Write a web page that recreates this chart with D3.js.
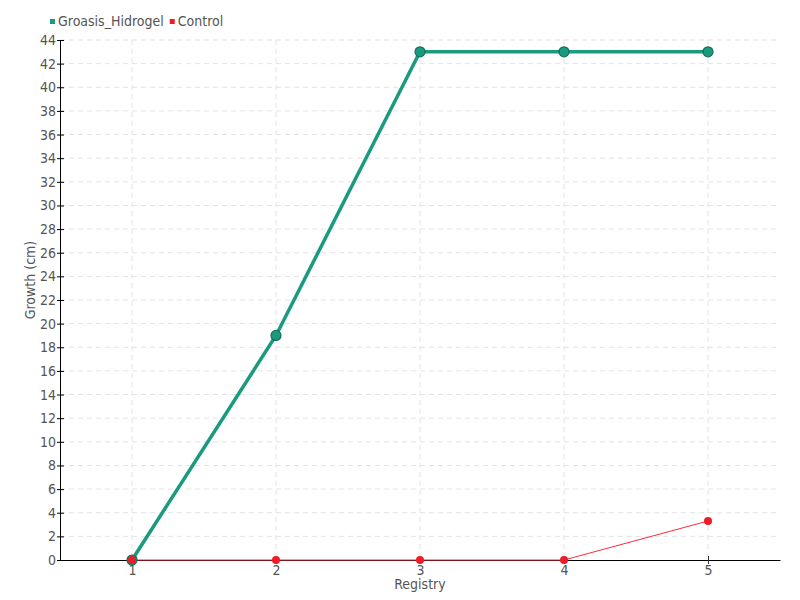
<!DOCTYPE html>
<html>
<head>
<meta charset="utf-8">
<script src="https://cdn.jsdelivr.net/npm/d3@7"></script>
<style>
  body { margin: 0; background: #fff; }
  text { font-family: "DejaVu Sans Condensed", "DejaVu Sans", sans-serif; font-stretch: condensed; fill: #555; }
</style>
</head>
<body>
<div id="chart"></div>
<script>
var registry = [1, 2, 3, 4, 5];
var groasis = [0, 19, 43, 43, 43];
var control = [0, 0, 0, 0, 3.3];
var yTicks = d3.range(0, 45, 2);

var svgWidth = 800, svgHeight = 600;
var margin = { top: 40, right: 20, bottom: 40, left: 60 };
var width = svgWidth - margin.left - margin.right;
var height = svgHeight - margin.top - margin.bottom;

var svg = d3.select("#chart").append("svg")
  .attr("width", svgWidth)
  .attr("height", svgHeight);

var g = svg.append("g")
  .attr("transform", `translate(${margin.left}, ${margin.top})`);

var x = d3.scalePoint().domain(registry).range([0, width]).padding(0.5);
var y = d3.scaleLinear().domain([0, 44]).range([height, 0]);

// grid
g.append("g").selectAll("line")
  .data(yTicks.slice(1))
  .enter().append("line")
  .attr("x1", 0).attr("x2", width)
  .attr("y1", d => y(d)).attr("y2", d => y(d))
  .attr("stroke", "#e3e3e3").attr("stroke-dasharray", "5,4");

g.append("g").selectAll("line")
  .data(registry)
  .enter().append("line")
  .attr("x1", d => x(d)).attr("x2", d => x(d))
  .attr("y1", 0).attr("y2", height)
  .attr("stroke", "#e3e3e3").attr("stroke-dasharray", "5,4");

// axes
var xAxis = g.append("g")
  .attr("transform", `translate(0, ${height})`)
  .call(d3.axisBottom(x).tickSizeInner(4).tickSizeOuter(0).tickPadding(1));
xAxis.selectAll(".tick line").attr("y1", -4).attr("stroke", "#333");
xAxis.select(".domain").attr("stroke", "#000");

var yAxis = g.append("g")
  .call(d3.axisLeft(y).tickValues(yTicks).tickSizeInner(3).tickSizeOuter(0).tickPadding(1));
yAxis.selectAll(".tick line").attr("x1", 4).attr("x2", -3).attr("stroke", "#000");
yAxis.select(".domain").attr("stroke", "#000");
g.selectAll(".tick text").attr("font-size", 14).style("fill", "#555")
  .attr("font-family", null);

// axis titles
g.append("text")
  .attr("x", width / 2).attr("y", height + 29)
  .attr("text-anchor", "middle").attr("font-size", 14)
  .text("Registry");

g.append("text")
  .attr("transform", "rotate(-90)")
  .attr("x", -(height / 2) + 20).attr("y", -25)
  .attr("text-anchor", "middle").attr("font-size", 14)
  .text("Growth (cm)");

// lines
var line = d3.line().x((d, i) => x(registry[i])).y(d => y(d));

g.append("path").datum(groasis)
  .attr("fill", "none").attr("stroke", "#1a9a7e").attr("stroke-width", 3.5)
  .attr("d", line);

g.append("path").datum(control)
  .attr("fill", "none").attr("stroke", "#ff2a3a").attr("stroke-width", 1)
  .attr("d", line);

g.append("g").selectAll("circle")
  .data(groasis).enter().append("circle")
  .attr("cx", (d, i) => x(registry[i])).attr("cy", d => y(d))
  .attr("r", 5).attr("fill", "#1a9a7e").attr("stroke", "#146e5c").attr("stroke-width", 1.2);

g.append("g").selectAll("circle")
  .data(control).enter().append("circle")
  .attr("cx", (d, i) => x(registry[i])).attr("cy", d => y(d))
  .attr("r", 4).attr("fill", "#ee1c2a");

// legend
var legend = svg.append("g").attr("transform", "translate(50, 21)");
var items = [{ name: "Groasis_Hidrogel", color: "#1a9a7e" }, { name: "Control", color: "#ee1c2a" }];
var lx = 0;
items.forEach(function(it) {
  legend.append("rect").attr("x", lx).attr("y", -2).attr("width", 5).attr("height", 5).attr("fill", it.color);
  var t = legend.append("text").attr("x", lx + 8).attr("y", 5).attr("font-size", 14).text(it.name);
  lx += 8 + t.node().getComputedTextLength() + 6;
});
</script>
</body>
</html>
